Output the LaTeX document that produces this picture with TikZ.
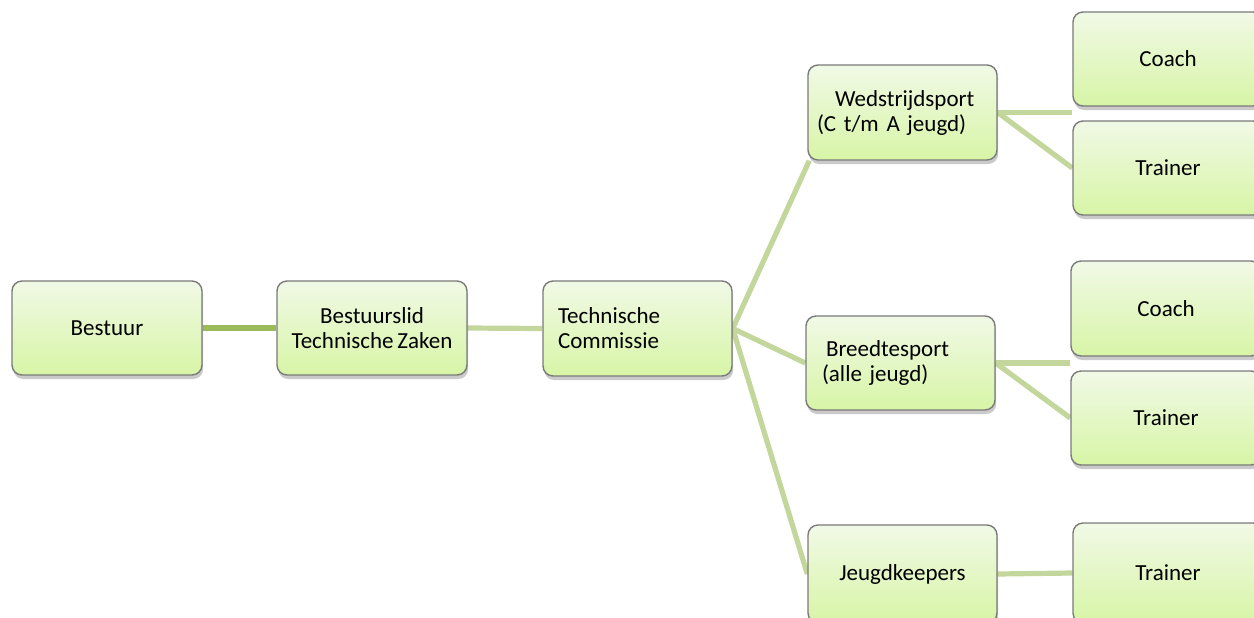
\documentclass[tikz,border=0pt]{standalone}
\usepackage{fontspec}
\setmainfont{Carlito}
\usetikzlibrary{shadows,backgrounds,calc}
\definecolor{boxtop}{HTML}{F1F9E6}
\definecolor{boxbot}{HTML}{D7F5A6}
\definecolor{boxedge}{HTML}{7A7A7A}
\definecolor{linkdark}{HTML}{9BBB59}
\definecolor{linklight}{HTML}{C3D69B}
\tikzset{
  orgbox/.style={draw=boxedge, line width=0.7pt, rounded corners=5pt,
    top color=boxtop, bottom color=boxbot,
    minimum width=94.5pt, minimum height=47pt, inner sep=0pt,
    font=\fontsize{11.5}{12.5}\selectfont,
    drop shadow={shadow xshift=0.6pt, shadow yshift=-2pt, opacity=0.35, fill=black!60}},
  link/.style={line width=2.6pt, draw=linklight},
  darklink/.style={line width=2.6pt, draw=linkdark}
}
\begin{document}
\begin{tikzpicture}[x=0.5pt,y=-0.5pt]
\useasboundingbox (0,0) rectangle (1254,617);
\clip (0,0) rectangle (1254,617);
\node[orgbox, minimum width=95pt, align=center] (bestuur) at (107,328) {Bestuur};
\node[orgbox, minimum width=95pt, align=center] (bzaken) at (372,328) {Bestuurslid\\Technische\,Zaken};
\node[orgbox, minimum height=47.5pt, text width=79.5pt, inner xsep=7.5pt, align=left] (tc) at (637.5,328.5) {Technische\\Commissie};
\node[orgbox, minimum height=47.5pt, text width=85.5pt, inner xsep=4.5pt, align=left] (wed) at (902.5,112.5) {\hspace*{9pt}Wedstrijdsport\\(C t/m A jeugd)};
\node[orgbox, text width=78.5pt, inner xsep=8pt, align=left] (breed) at (900.5,363) {\hspace*{2pt}Breedtesport\\(alle jeugd)};
\node[orgbox, minimum height=49pt, align=center] (jeugd) at (902.5,574) {Jeugdkeepers};
\node[orgbox, minimum width=95pt, align=center] (coach1) at (1168,59) {Coach};
\node[orgbox, minimum width=95pt, align=center] (trainer1) at (1168,168) {Trainer};
\node[orgbox, minimum width=95pt, minimum height=47.5pt, align=center] (coach2) at (1166,308.5) {Coach};
\node[orgbox, minimum width=95pt, align=center] (trainer2) at (1166,418) {Trainer};
\node[orgbox, minimum width=95pt, minimum height=50pt, align=center] (trainer3) at (1168,573) {Trainer};
\begin{scope}[on background layer]
\draw[darklink] (bestuur.east) -- (bzaken.west);
\draw[link] (bzaken.east) -- (tc.west);
\draw[link] (tc.east) -- ($(wed.south west)+(2,0)$);
\draw[link] (tc.east) -- (breed.west);
\draw[link] (tc.east) -- (jeugd.west);
\draw[link] (wed.east) -- (wed.east -| coach1.west);
\draw[link] (wed.east) -- (trainer1.west);
\draw[link] (breed.east) -- (breed.east -| coach2.west);
\draw[link] (breed.east) -- (trainer2.west);
\draw[link] (jeugd.east) -- (trainer3.west);
\end{scope}
\end{tikzpicture}
\end{document}
